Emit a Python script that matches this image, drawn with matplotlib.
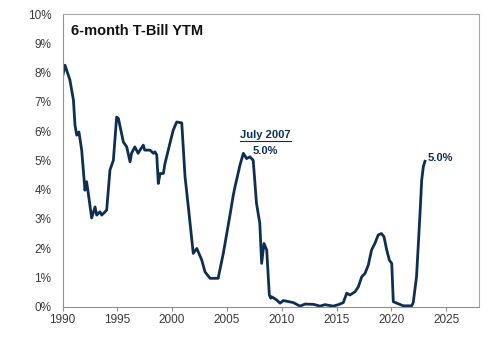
import matplotlib
matplotlib.use('Agg')
import numpy as np
import matplotlib.pyplot as plt

# 6-month T-Bill yield (decimal year, percent)
years = [1990.0, 1990.23, 1990.68, 1991.0, 1991.14, 1991.3, 1991.5, 1991.75,
         1992.05, 1992.2, 1992.35, 1992.66, 1992.97, 1993.12, 1993.42, 1993.58,
         1993.88, 1994.03, 1994.33, 1994.64, 1994.94, 1995.1, 1995.55, 1995.86,
         1996.16, 1996.3, 1996.6, 1996.9, 1997.07, 1997.37, 1997.5, 1997.98,
         1998.3, 1998.44, 1998.6, 1998.74, 1998.9, 1999.2, 1999.35, 1999.8,
         2000.1, 2000.42, 2000.88, 2001.18, 2001.48, 2001.93, 2002.25, 2002.7,
         2003.0, 2003.46, 2004.2, 2004.67, 2005.28, 2005.58, 2005.74, 2006.2,
         2006.5, 2006.8, 2007.1, 2007.4, 2007.7, 2008.0, 2008.17, 2008.38,
         2008.63, 2008.87, 2009.0, 2009.08, 2009.54, 2009.85, 2010.15, 2011.06,
         2011.67, 2012.13, 2012.9, 2013.5, 2013.95, 2014.7, 2015.17, 2015.62,
         2015.93, 2016.23, 2016.69, 2016.99, 2017.3, 2017.6, 2017.9, 2018.2,
         2018.5, 2018.8, 2019.1, 2019.33, 2019.58, 2019.82, 2020.04, 2020.18,
         2020.5, 2021.1, 2021.86, 2022.0, 2022.3, 2022.62, 2022.77, 2022.92,
         2023.07]
ytm = [7.85, 8.25, 7.74, 7.05, 6.2, 5.86, 5.97, 5.35,
       3.98, 4.27, 3.88, 3.03, 3.41, 3.13, 3.24, 3.13,
       3.24, 3.3, 4.67, 5.0, 6.48, 6.43, 5.63, 5.46,
       4.95, 5.24, 5.46, 5.24, 5.35, 5.52, 5.35, 5.35,
       5.24, 5.29, 5.18, 4.21, 4.55, 4.55, 4.89, 5.58,
       6.03, 6.31, 6.28, 4.44, 3.41, 1.82, 1.99, 1.6,
       1.19, 0.97, 0.97, 1.82, 3.13, 3.81, 4.1, 4.85,
       5.24, 5.06, 5.12, 5.0, 3.53, 2.85, 1.48, 2.16,
       1.94, 0.4, 0.29, 0.34, 0.23, 0.12, 0.21, 0.14,
       0.02, 0.09, 0.08, 0.02, 0.07, 0.02, 0.07, 0.14,
       0.46, 0.4, 0.51, 0.68, 1.02, 1.14, 1.42, 1.94,
       2.16, 2.45, 2.5, 2.39, 1.94, 1.59, 1.48, 0.17,
       0.12, 0.03, 0.03, 0.14, 1.02, 3.19, 4.32, 4.78,
       4.97]

xticks = [1990, 1995, 2000, 2005, 2010, 2015, 2020, 2025]
yticks = np.arange(0, 11)

navy = '#0f2f52'
txtcol = '#3a3a3a'
plt.rcParams['font.family'] = ['Liberation Sans', 'DejaVu Sans']

fig = plt.figure(figsize=(5, 3.39), dpi=100)
ax = fig.add_axes([0.125, 0.0953, 0.833, 0.8634])

ax.plot(years, ytm, color=navy, lw=2.0, solid_joinstyle='round')

ax.set_xlim(1990, 2028)
ax.set_ylim(0, 10)
ax.set_xticks(xticks)
ax.set_yticks(yticks)
ax.set_yticklabels([f'{v}%' for v in yticks])
ax.tick_params(axis='x', length=3, color='#909090', labelsize=8.5,
               labelcolor=txtcol, pad=2)
ax.tick_params(axis='y', length=0, labelsize=8.5, labelcolor=txtcol, pad=8)
for s in ['top', 'right']:
    ax.spines[s].set_color('#a8a8a8')
for s in ['left', 'bottom']:
    ax.spines[s].set_color('#909090')

ax.text(0.02, 0.942, '6-month T-Bill YTM', transform=ax.transAxes,
        fontsize=10.5, fontweight='bold', color='#111111', va='center')

lbl = ax.text(2008.5, 5.86, 'July 2007', ha='center', va='center',
              fontsize=8, fontweight='bold', color=navy)
ax.text(2008.5, 5.33, '5.0%', ha='center', va='center',
        fontsize=8, fontweight='bold', color=navy)
ax.text(2024.5, 5.07, '5.0%', ha='center', va='center',
        fontsize=8, fontweight='bold', color=navy)

# underline under "July 2007"
fig.canvas.draw()
bb = lbl.get_window_extent().transformed(ax.transData.inverted())
ax.plot([bb.x0, bb.x1], [bb.y0 - 0.02, bb.y0 - 0.02], color=navy, lw=0.8)

fig.savefig('out.png', dpi=100)
